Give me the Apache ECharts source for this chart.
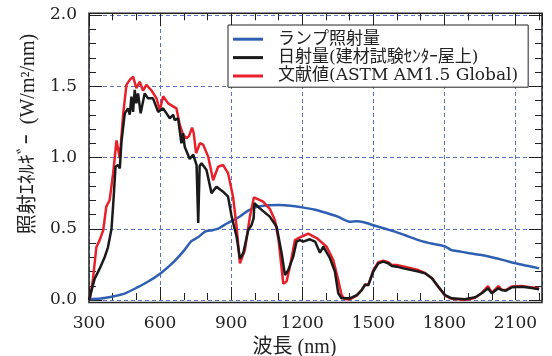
<!DOCTYPE html>
<html>
<head>
<meta charset="utf-8">
<script src="https://cdn.jsdelivr.net/npm/echarts@6/dist/echarts.min.js"></script>
<style>
  html, body { margin: 0; padding: 0; background: #fff; }
  #chart { width: 552px; height: 356px; }
</style>
</head>
<body>
<div id="chart"></div>
<script>
// Spectral irradiance: lamp, measured sunlight, ASTM reference spectrum
const lampWavelength = [300, 350, 400, 450, 500, 550, 600, 650, 700, 730, 760, 790, 820, 850, 880, 910, 940, 970, 1000, 1030, 1060, 1100, 1150, 1200, 1250, 1300, 1350, 1400, 1430, 1460, 1500, 1550, 1600, 1650, 1700, 1750, 1800, 1830, 1860, 1900, 1950, 2000, 2050, 2100, 2150, 2200];
const lampValues = [0.005, 0.01, 0.025, 0.045, 0.085, 0.13, 0.185, 0.255, 0.345, 0.41, 0.44, 0.48, 0.49, 0.505, 0.535, 0.56, 0.59, 0.625, 0.65, 0.66, 0.665, 0.666, 0.662, 0.65, 0.635, 0.612, 0.585, 0.55, 0.553, 0.545, 0.525, 0.5, 0.475, 0.445, 0.415, 0.395, 0.378, 0.35, 0.342, 0.33, 0.317, 0.3, 0.28, 0.258, 0.24, 0.222];

const sunWavelength = [300, 303, 324, 345, 366, 380, 395, 402, 412, 423, 430, 437, 451, 465, 472, 479, 486, 493, 500, 507, 518, 535, 549, 570, 592, 613, 627, 641, 655, 662, 676, 690, 697, 704, 725, 740, 754, 761, 767, 775, 796, 817, 838, 866, 887, 902, 923, 937, 951, 972, 986, 995, 998, 1021, 1063, 1092, 1113, 1127, 1141, 1162, 1176, 1190, 1204, 1232, 1254, 1275, 1289, 1317, 1338, 1352, 1366, 1401, 1430, 1451, 1465, 1479, 1500, 1521, 1542, 1563, 1578, 1599, 1627, 1690, 1718, 1747, 1775, 1803, 1831, 1887, 1930, 1958, 1984, 2000, 2028, 2042, 2059, 2084, 2127, 2162, 2200];
const sunValues = [0.0, 0.005, 0.15, 0.22, 0.30, 0.37, 0.50, 0.667, 0.935, 0.947, 0.924, 1.11, 1.31, 1.345, 1.30, 1.427, 1.32, 1.474, 1.38, 1.45, 1.31, 1.45, 1.415, 1.415, 1.32, 1.345, 1.31, 1.275, 1.30, 1.263, 1.275, 1.10, 1.17, 1.076, 0.99, 1.02, 0.947, 0.54, 0.94, 0.96, 0.912, 0.75, 0.795, 0.76, 0.725, 0.585, 0.444, 0.29, 0.328, 0.49, 0.526, 0.575, 0.68, 0.643, 0.585, 0.514, 0.328, 0.175, 0.21, 0.304, 0.41, 0.42, 0.41, 0.426, 0.41, 0.332, 0.374, 0.293, 0.2, 0.047, 0.012, 0.012, 0.035, 0.07, 0.105, 0.105, 0.2, 0.257, 0.269, 0.257, 0.239, 0.234, 0.222, 0.2, 0.187, 0.152, 0.093, 0.035, 0.012, 0.005, 0.019, 0.047, 0.082, 0.047, 0.082, 0.07, 0.065, 0.089, 0.093, 0.086, 0.075];

const astmWavelength = [300, 305, 317, 331, 345, 360, 373, 387, 402, 416, 430, 444, 458, 472, 486, 500, 514, 528, 542, 564, 585, 599, 613, 634, 669, 683, 697, 711, 722, 735, 742, 752, 768, 782, 803, 824, 845, 866, 887, 908, 923, 937, 958, 979, 996, 1035, 1063, 1085, 1100, 1110, 1120, 1134, 1148, 1169, 1190, 1225, 1261, 1303, 1331, 1352, 1366, 1380, 1400, 1430, 1451, 1465, 1479, 1500, 1521, 1542, 1563, 1578, 1599, 1627, 1690, 1718, 1747, 1775, 1803, 1831, 1887, 1930, 1958, 1984, 2000, 2028, 2042, 2059, 2084, 2127, 2162, 2200];
const astmValues = [0.0, 0.02, 0.15, 0.37, 0.42, 0.49, 0.655, 0.70, 0.89, 1.12, 0.995, 1.30, 1.51, 1.545, 1.567, 1.486, 1.532, 1.47, 1.51, 1.47, 1.415, 1.33, 1.43, 1.38, 1.345, 1.23, 1.16, 1.135, 1.15, 1.21, 1.17, 1.03, 1.10, 1.09, 1.006, 0.84, 0.935, 0.947, 0.89, 0.725, 0.514, 0.257, 0.35, 0.585, 0.72, 0.69, 0.64, 0.56, 0.42, 0.27, 0.115, 0.13, 0.234, 0.42, 0.44, 0.465, 0.435, 0.374, 0.28, 0.14, 0.035, 0.005, 0.005, 0.03, 0.07, 0.11, 0.105, 0.21, 0.265, 0.275, 0.265, 0.245, 0.245, 0.235, 0.21, 0.19, 0.155, 0.09, 0.03, 0.008, 0.0, 0.015, 0.05, 0.098, 0.05, 0.098, 0.072, 0.07, 0.095, 0.098, 0.09, 0.082];

const seriesNames = ['ランプ照射量', '日射量(建材試験ｾﾝﾀｰ屋上)', '文献値(ASTM AM1.5 Global)'];
const seriesColors = ['#2f5fb3', '#1a1a1a', '#e8202a'];

const X_MIN = 300, X_MAX = 2212, X_STEP = 300, X_MINOR = 100;
const Y_MIN = 0, Y_MAX = 2, Y_STEP = 0.5;

const GRID = { left: 89, right: 10, top: 15, bottom: 56 };
const W = 552, H = 356;

const pairs = (xs, ys) => xs.map((x, i) => [x, ys[i]]);

const tickFont = "'DejaVu Serif', serif";
const nameFont = "'Liberation Serif', 'Noto Sans CJK JP', serif";
const legendFont = "'DejaVu Serif', 'Noto Sans CJK JP', serif";
const gridLine = { show: true, lineStyle: { color: '#5b73c8', type: [4, 3], width: 1 } };
const tickStyle = { color: '#222', width: 1 };

const chart = echarts.init(document.getElementById('chart'), null, { renderer: 'canvas' });

const baseX = {
  type: 'value', min: X_MIN, max: X_MAX, gridIndex: 0,
  axisLine: { show: false }, splitLine: { show: false }, axisLabel: { show: false }
};
const baseY = {
  type: 'value', min: Y_MIN, max: Y_MAX, interval: Y_STEP, gridIndex: 0,
  axisLine: { show: false }, splitLine: { show: false }, axisLabel: { show: false }
};

chart.setOption({
  animation: false,
  backgroundColor: '#fff',
  grid: {
    left: GRID.left, right: GRID.right, top: GRID.top, bottom: GRID.bottom,
    containLabel: false, outerBoundsMode: 'none'
  },
  legend: {
    orient: 'vertical',
    left: 228, top: 25,
    backgroundColor: '#fff',
    borderColor: '#222', borderWidth: 1,
    padding: [5, 10, 2, 5],
    itemGap: 0,
    itemWidth: 30, itemHeight: 3,
    icon: 'rect',
    data: seriesNames,
    textStyle: { fontFamily: legendFont, fontSize: 17, color: '#222', lineHeight: 18.4, padding: [0, 0, 0, 10] }
  },
  xAxis: [
    Object.assign({}, baseX, {
      position: 'bottom', offset: 2.5, interval: X_STEP,
      axisTick: { show: true, inside: true, length: 13, lineStyle: tickStyle },
      axisLabel: { show: true, margin: 13, showMaxLabel: false, fontFamily: tickFont, fontSize: 17, color: '#222',
        formatter: v => String(v) },
      splitLine: gridLine,
      name: '波長 (nm)', nameLocation: 'middle', nameGap: 32,
      nameTextStyle: { fontFamily: nameFont, fontSize: 20, color: '#222', padding: [0, 42, 0, 0] }
    }),
    Object.assign({}, baseX, {
      position: 'bottom', offset: 2.5, interval: X_MINOR,
      axisTick: { show: true, inside: true, length: 7, lineStyle: tickStyle }
    }),
    Object.assign({}, baseX, {
      position: 'top', offset: 1.7, interval: X_STEP,
      axisTick: { show: true, inside: true, length: 13, lineStyle: tickStyle }
    }),
    Object.assign({}, baseX, {
      position: 'top', offset: 1.7, interval: X_MINOR,
      axisTick: { show: true, inside: true, length: 7, lineStyle: tickStyle }
    })
  ],
  yAxis: [
    Object.assign({}, baseY, {
      position: 'left',
      axisTick: { show: true, inside: true, length: 13, lineStyle: tickStyle },
      minorTick: { show: true, splitNumber: 5, length: 7, lineStyle: tickStyle },
      axisLabel: { show: true, margin: 12, fontFamily: tickFont, fontSize: 17, color: '#222',
        formatter: v => v.toFixed(1) },
      splitLine: gridLine,
      name: '照射ｴﾈﾙｷﾞｰ  (W/m²/nm)', nameLocation: 'middle', nameGap: 47,
      nameTextStyle: { fontFamily: nameFont, fontSize: 20, color: '#222', padding: [0, 0, 0, 47] }
    }),
    Object.assign({}, baseY, {
      position: 'right',
      axisTick: { show: true, inside: true, length: 13, lineStyle: tickStyle },
      minorTick: { show: true, splitNumber: 5, length: 7, lineStyle: tickStyle }
    })
  ],
  graphic: [{
    type: 'rect', z: 10, silent: true,
    shape: { x: GRID.left, y: GRID.top - 1.7, width: W - GRID.left - GRID.right, height: H - GRID.top - GRID.bottom + 4.2 },
    style: { fill: null, stroke: '#222', lineWidth: 1.5 }
  }],
  series: [
    {
      name: seriesNames[0], type: 'line', data: pairs(lampWavelength, lampValues),
      showSymbol: false, smooth: 0.2, color: seriesColors[0],
      lineStyle: { width: 2.5, color: seriesColors[0] }, z: 2
    },
    {
      name: seriesNames[2], type: 'line', data: pairs(astmWavelength, astmValues),
      showSymbol: false, color: seriesColors[2],
      lineStyle: { width: 2.5, color: seriesColors[2] }, z: 3
    },
    {
      name: seriesNames[1], type: 'line', data: pairs(sunWavelength, sunValues),
      showSymbol: false, color: seriesColors[1],
      lineStyle: { width: 2.5, color: seriesColors[1] }, z: 4
    }
  ]
});
</script>
</body>
</html>
